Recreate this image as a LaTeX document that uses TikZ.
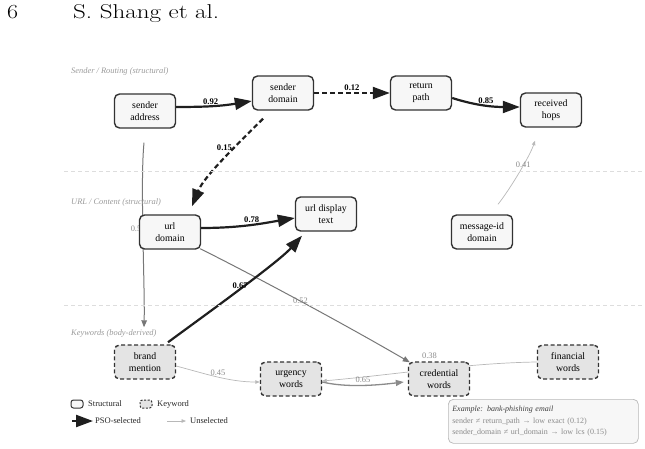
\documentclass[tikz,border=0pt]{standalone}
\usepackage{fontspec}
\newfontfamily\tnr{Liberation Serif}
\usetikzlibrary{arrows.meta,calc}
\definecolor{nodeborder}{HTML}{333333}
\definecolor{structfill}{HTML}{F7F7F7}
\definecolor{kwfill}{HTML}{E4E4E4}
\definecolor{psoc}{HTML}{1F1F1F}
\definecolor{midgray}{HTML}{777777}
\definecolor{ltgray}{HTML}{B8B8B8}
\definecolor{labgray}{HTML}{8A8A8A}
\definecolor{secgray}{HTML}{9A9A9A}
\definecolor{sepgray}{HTML}{DDDDDD}
\pgfdeclarelayer{bg}
\pgfsetlayers{bg,main}
\tikzset{
  struct/.style={draw=nodeborder, line width=1.4pt, rounded corners=5pt, fill=structfill,
    minimum width=61pt, minimum height=34pt, inner sep=0pt, align=center,
    font=\tnr\fontsize{9.8}{12.2}\selectfont},
  kw/.style={struct, fill=kwfill, dash pattern=on 4pt off 2.5pt},
  pso/.style={draw=psoc, line width=2.2pt, -{Triangle[length=17pt,width=12pt]}},
  psodash/.style={pso, dash pattern=on 5pt off 3pt},
  grayedge/.style={draw=midgray, line width=1pt, -{Triangle[length=7pt,width=5.5pt]}},
  midedge/.style={draw=midgray!85, line width=1.3pt, -{Triangle[length=8pt,width=6pt]}},
  lightedge/.style={draw=ltgray, line width=0.7pt, -{Triangle[length=4.5pt,width=3.5pt]}},
  plab/.style={font=\tnr\bfseries\fontsize{8.6}{10}\selectfont, text=black, inner sep=0.8pt},
  glab/.style={font=\tnr\fontsize{8.4}{10}\selectfont, text=labgray, inner sep=1pt},
  seclab/.style={font=\tnr\itshape\fontsize{8.4}{10}\selectfont, text=secgray, anchor=west, inner sep=0pt},
  sepline/.style={draw=sepgray, line width=0.6pt, dash pattern=on 4pt off 3pt},
  legtxt/.style={font=\tnr\fontsize{8.5}{10}\selectfont, text=black!85, anchor=west, inner sep=0pt},
  legicon/.style={draw=nodeborder, line width=1pt, rounded corners=2.5pt, fill=structfill,
    minimum width=12pt, minimum height=8pt, inner sep=0pt},
  examplebox/.style={draw=ltgray, line width=0.7pt, rounded corners=5pt, fill=structfill,
    minimum width=190pt, minimum height=44pt, text width=182pt, align=left, inner sep=4pt,
    font=\tnr\fontsize{8}{11.5}\selectfont, text=labgray},
  headtxt/.style={anchor=base west, font=\fontsize{20}{23}\selectfont, inner sep=0pt},
}
\begin{document}
\begin{tikzpicture}[x=1pt,y=-1pt]
\useasboundingbox (0,0) rectangle (645,449);
% header
\node[headtxt] (pg) at (7,18.5) {\scalebox{1.2}[1]{6}};
\node[headtxt] (auth) at (73,18.5) {\scalebox{1.25}[1]{S. Shang et al.}};
% separators
\coordinate (s1a) at (64,171); \coordinate (s1b) at (645,171);
\coordinate (s2a) at (64,305); \coordinate (s2b) at (645,305);
\draw[sepline] (s1a) -- (s1b);
\draw[sepline] (s2a) -- (s2b);
% section labels
\node[seclab] (sec1) at (71,71) {Sender / Routing (structural)};
\node[seclab] (sec2) at (71,202) {URL / Content (structural)};
\node[seclab] (sec3) at (71,333) {Keywords (body-derived)};
% nodes
\node[struct] (sa) at (145,111) {sender\\address};
\node[struct] (sd) at (283,93) {sender\\domain};
\node[struct] (rp) at (421,93) {return\\path};
\node[struct] (rh) at (551,110) {received\\hops};
\node[struct] (ud) at (170,232) {url\\domain};
\node[struct] (ut) at (326,214) {url display\\text};
\node[struct] (md) at (482,232) {message-id\\domain};
\node[kw] (bm) at (145,362) {brand\\mention};
\node[kw] (uw) at (291,379) {urgency\\words};
\node[kw] (cw) at (439,379) {credential\\words};
\node[kw] (fw) at (568,362) {financial\\words};
% edges
\begin{pgfonlayer}{bg}
\draw[grayedge] ([xshift=-1pt,yshift=-14pt]sa.south) .. controls +(-4,40) and +(1,-40) .. ([xshift=-1pt,yshift=17pt]bm.north)
  node[glab, pos=0.47, anchor=east] {0.5};
\draw[grayedge] ([xshift=-1pt,yshift=1pt]ud.south east) .. controls +(60,30) and +(-60,-35) .. ([xshift=2pt,yshift=-1pt]cw.north west)
  node[glab, pos=0.48, inner sep=0pt] {0.52};
\draw[lightedge] (fw.west) .. controls +(-70,1) and +(70,-6) .. ([yshift=-2pt]uw.east)
  node[glab, pos=0.5, yshift=14pt] {0.38};
\draw[lightedge] ([yshift=-4pt]bm.east) .. controls +(30,8) and +(-30,0) .. ([yshift=-3pt]uw.west)
  node[glab, pos=0.5, above] {0.45};
\draw[midedge] ([yshift=-3pt]uw.east) .. controls +(25,6) and +(-25,3) .. ([xshift=-4pt,yshift=-3pt]cw.west)
  node[glab, pos=0.5, above=1pt] {0.65};
\draw[lightedge] ([xshift=16pt,yshift=10pt]md.north) .. controls +(12,-15) and +(-5,15) .. ([xshift=-16pt,yshift=-13pt]rh.south)
  node[glab, pos=0.6, inner sep=0pt] {0.41};
\draw[pso] ([yshift=4pt]sa.east) .. controls +(30,0) and +(-30,5) .. ([yshift=-8pt]sd.west)
  node[plab, pos=0.45, above] {0.92};
\draw[psodash] (sd.east) -- (rp.west)
  node[plab, pos=0.5, above] {0.12};
\draw[pso] ([yshift=-5pt]rp.east) .. controls +(25,8) and +(-25,0) .. ([yshift=3pt]rh.west)
  node[plab, pos=0.5, above] {0.85};
\draw[psodash] ([xshift=-20pt,yshift=-8pt]sd.south) .. controls +(-25,25) and +(12,-30) .. ([xshift=22pt,yshift=8pt]ud.north)
  node[plab, pos=0.36, anchor=east] {0.15};
\draw[pso] ([yshift=4pt]ud.east) .. controls +(40,0) and +(-30,5) .. ([yshift=-4pt]ut.west)
  node[plab, pos=0.5, above] {0.78};
\draw[pso] ([xshift=23pt,yshift=2pt]bm.north) .. controls +(20,-15) and +(-25,28) .. ([xshift=-24pt,yshift=-4pt]ut.south)
  node[plab, pos=0.56, xshift=-3pt] {0.67};
\end{pgfonlayer}
% legend
\node[legicon] (lg1) at (77,404) {};
\node[legtxt] (lg1t) at (88,404) {Structural};
\node[legicon, fill=kwfill, dash pattern=on 2pt off 1.5pt] (lg2) at (146,404) {};
\node[legtxt] (lg2t) at (157,404) {Keyword};
\coordinate (lg3a) at (72,421); \coordinate (lg3b) at (93,421);
\draw[pso] (lg3a) -- (lg3b);
\node[legtxt] (lg3t) at (95,421) {PSO-selected};
\coordinate (lg4a) at (167,421); \coordinate (lg4b) at (186,421);
\draw[lightedge] (lg4a) -- (lg4b);
\node[legtxt] (lg4t) at (190,421) {Unselected};
% example box
\node[examplebox, anchor=north west] (ex) at (448,399) {{\color{black!75}\itshape Example: bank-phishing email}\\
sender ≠ return\_path → low exact (0.12)\\
sender\_domain ≠ url\_domain → low lcs (0.15)};
\end{tikzpicture}
\end{document}
